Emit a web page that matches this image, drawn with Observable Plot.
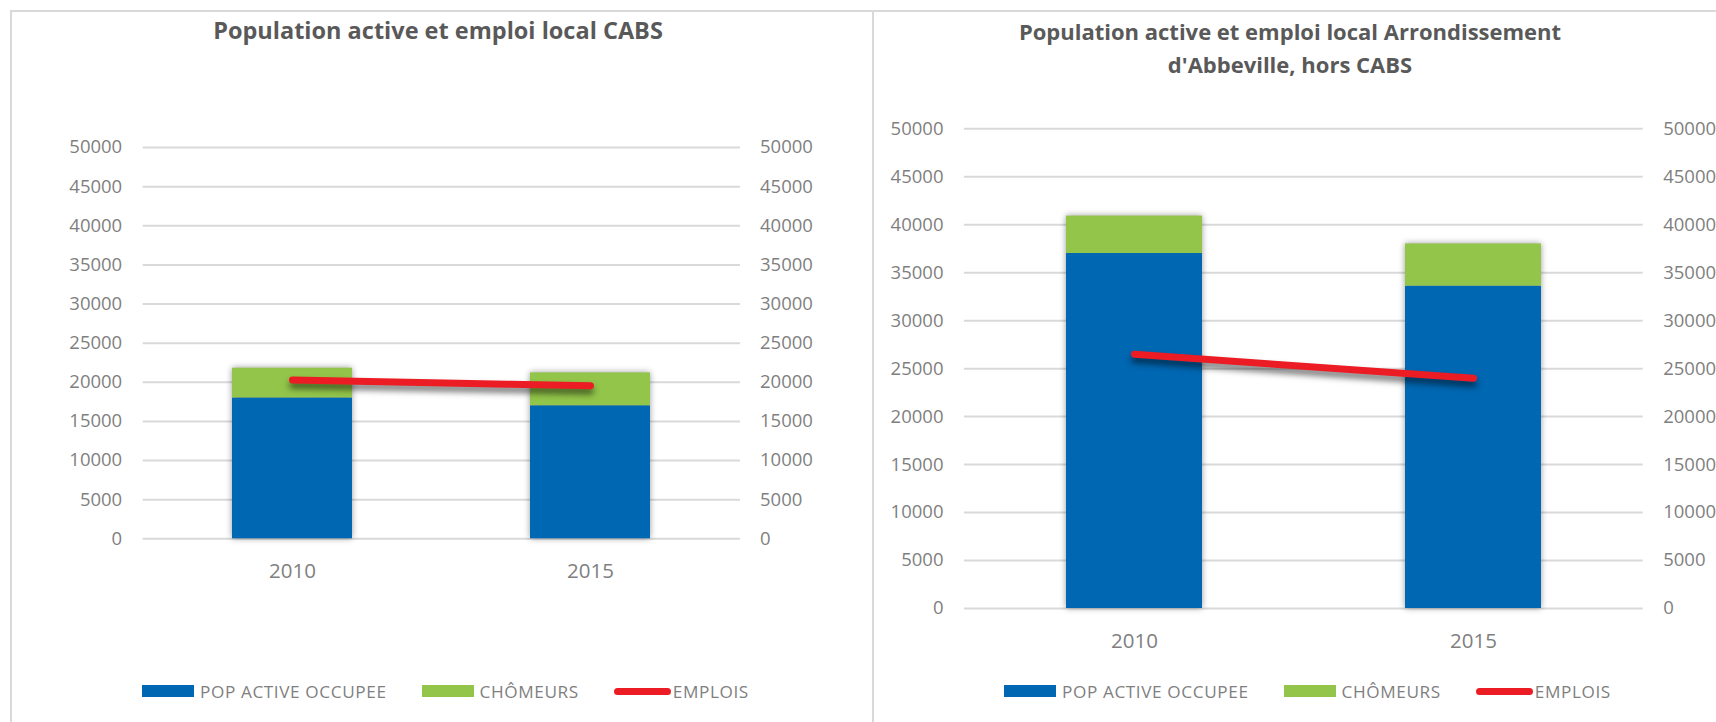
<!DOCTYPE html>
<html>
<head>
<meta charset="utf-8">
<script src="https://cdn.jsdelivr.net/npm/d3@7"></script>
<script src="https://cdn.jsdelivr.net/npm/@observablehq/plot@0.6"></script>
<style>
  html, body { margin:0; padding:0; background:#fff; }
  body { width:1716px; height:722px; overflow:hidden; position:relative; font-family:"Open Sans", sans-serif; }
  .panel { position:absolute; border:2px solid #d9d9d9; box-sizing:border-box; }
  .title { position:absolute; transform:translateX(-50%); text-align:center; font-weight:700; color:#595959; line-height:33px; white-space:nowrap; }
  .chart { position:absolute; width:861px; }
  .chart svg { max-width:none !important; display:block; }
  .legend { position:absolute; height:24px; display:flex; align-items:center; font-size:17.2px; letter-spacing:0.6px; color:#7f7f7f; white-space:nowrap; }
  .legend .item { display:flex; align-items:center; margin-right:35px; }
  .legend .sw { width:52px; height:12px; margin-right:6px; }
  .legend .ln { width:57px; height:7px; border-radius:4px; margin-right:2px; }
</style>
</head>
<body>
<div class="panel" style="left:10px; top:10px; width:864px; height:760px;"></div>
<div class="panel" style="left:872px; top:10px; width:900px; height:760px;"></div>

<div class="title" id="t1" style="left:438px; top:14px; font-size:23.5px;"></div>
<div class="title" id="t2" style="left:1290px; top:15px; font-size:22px;"></div>

<div class="chart" id="c1" style="left:11px; top:100px;"></div>
<div class="chart" id="c2" style="left:872px; top:80px;"></div>

<div class="legend" id="l1" style="left:142px; top:679px;"></div>
<div class="legend" id="l2" style="left:1004px; top:679px;"></div>

<script>
// ---- Data ----
const years = ["2010", "2015"];
const barSeries = ["POP ACTIVE OCCUPEE", "CHÔMEURS"];
const barColors = ["#0067b2", "#92c54a"];
const lineSeries = "EMPLOIS";
const lineColor = "#ec1c24";
const yTicks = [0, 5000, 10000, 15000, 20000, 25000, 30000, 35000, 40000, 45000, 50000];

const title1 = "Population active et emploi local CABS";
const title2 = ["Population active et emploi local Arrondissement", "d'Abbeville, hors CABS"];

// CABS
const cabsOccupee = [18000, 17000];
const cabsChomeurs = [3800, 4200];
const cabsEmplois = [20300, 19550];
// Arrondissement d'Abbeville, hors CABS
const abbOccupee = [37000, 33600];
const abbChomeurs = [3900, 4400];
const abbEmplois = [26500, 24000];

// ---- Chart builder ----
function makeChart({occ, cho, emp, width, height, mt, mr, mb, ml, padL, padR}) {
  const bars = years.flatMap((yr, i) => [
    {year: yr, series: barSeries[0], value: occ[i]},
    {year: yr, series: barSeries[1], value: cho[i]}
  ]);
  const line = years.map((yr, i) => ({year: yr, value: emp[i]}));
  const fmt = d => String(d);
  const svg = Plot.plot({
    width, height,
    marginTop: mt, marginRight: mr, marginBottom: mb, marginLeft: ml,
    style: {fontFamily: '"Open Sans", sans-serif', fontSize: "18.5px", color: "#7f7f7f", background: "transparent", overflow: "visible", maxWidth: "none"},
    x: {domain: years, paddingInner: 0.598, paddingOuter: 0.3, axis: null},
    y: {domain: [0, 50000], axis: null},
    color: {domain: barSeries, range: barColors},
    marks: [
      Plot.ruleY(yTicks, {stroke: "#d9d9d9", strokeWidth: 2}),
      Plot.barY(bars, {x: "year", y: "value", fill: "series"}),
      Plot.line(line, {x: "year", y: "value", stroke: lineColor, strokeWidth: 7, strokeLinecap: "round"}),
      Plot.axisY({anchor: "left", ticks: yTicks, tickSize: 0, tickPadding: padL, tickFormat: fmt, label: null}),
      Plot.axisY({anchor: "right", ticks: yTicks, tickSize: 0, tickPadding: padR, tickFormat: fmt, label: null}),
      Plot.axisX({anchor: "bottom", tickSize: 0, tickPadding: 25, fontSize: "20.5px", label: null})
    ]
  });
  svg.style.maxWidth = "none";
  const gb = svg.querySelector('g[aria-label="bar"]');
  if (gb) gb.style.filter = "drop-shadow(0px 0px 3px rgba(0,0,0,0.4))";
  const gl = svg.querySelector('g[aria-label="line"]');
  if (gl) gl.style.filter = "drop-shadow(0px 5px 3px rgba(0,0,0,0.55))";
  return svg;
}

document.getElementById("c1").appendChild(makeChart({
  occ: cabsOccupee, cho: cabsChomeurs, emp: cabsEmplois,
  width: 861, height: 490, mt: 47, mr: 132, mb: 51.7, ml: 131.7, padL: 21, padR: 19.5
}));
document.getElementById("c2").appendChild(makeChart({
  occ: abbOccupee, cho: abbChomeurs, emp: abbEmplois,
  width: 861, height: 580, mt: 48.3, mr: 90.3, mb: 52, ml: 92, padL: 21, padR: 20
}));

// ---- Titles ----
document.getElementById("t1").textContent = title1;
document.getElementById("t2").innerHTML = title2.map(s => s.replace(/&/g, "&amp;").replace(/</g, "&lt;")).join("<br>");

// ---- Legends ----
function makeLegend(el) {
  barSeries.forEach((s, i) => {
    const it = document.createElement("div"); it.className = "item";
    const sw = document.createElement("div"); sw.className = "sw"; sw.style.background = barColors[i];
    const tx = document.createElement("span"); tx.textContent = s;
    it.appendChild(sw); it.appendChild(tx); el.appendChild(it);
  });
  const it = document.createElement("div"); it.className = "item";
  const ln = document.createElement("div"); ln.className = "ln"; ln.style.background = lineColor;
  const tx = document.createElement("span"); tx.textContent = lineSeries;
  it.appendChild(ln); it.appendChild(tx); el.appendChild(it);
}
makeLegend(document.getElementById("l1"));
makeLegend(document.getElementById("l2"));
</script>
</body>
</html>
